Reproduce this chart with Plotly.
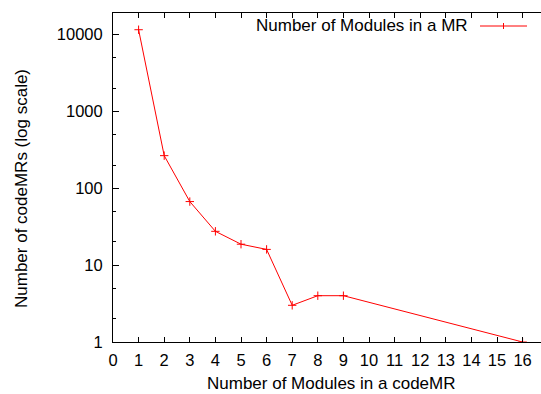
import plotly.graph_objects as go

# Data
modules = [1, 2, 3, 4, 5, 6, 7, 8, 9, 16]
code_mrs = [11500, 265, 67, 27.5, 18.7, 16, 3, 4, 4, 1]
x_ticks = list(range(0, 17))
y_ticks = [1, 10, 100, 1000, 10000]
series_name = "Number of Modules in a MR"
x_title = "Number of Modules in a codeMR"
y_title = "Number of codeMRs (log scale)"

W, H = 541, 394
L, R, T, B = 113, 0, 13, 52
pw, ph = W - L - R, H - T - B

def px(x):
    return (x - L) / pw

def py(y):
    return (H - B - y) / ph

FONT = "Liberation Sans, Arial, Helvetica, sans-serif"
RED = "#ff0000"

fig = go.Figure()
fig.add_trace(go.Scatter(
    x=modules, y=code_mrs, mode="lines+markers", name=series_name,
    line=dict(color=RED, width=1),
    marker=dict(symbol="cross-thin-open", size=6, color=RED,
                line=dict(color=RED, width=1)),
    showlegend=False,
))

fig.update_layout(
    width=W, height=H,
    margin=dict(l=L, r=R, t=T, b=B),
    paper_bgcolor="white", plot_bgcolor="white",
    font=dict(family=FONT, size=17, color="black"),
    xaxis=dict(
        range=[0, pw / 25.6], tickvals=x_ticks, ticktext=[str(v) for v in x_ticks],
        showgrid=False, zeroline=False, showline=True, linecolor="black", linewidth=1,
        mirror="ticks", ticks="inside", ticklen=5, tickcolor="black", tickwidth=1,
        tickfont=dict(size=16.5), ticklabelstandoff=3,
    ),
    yaxis=dict(
        type="log", range=[0, ph / 76.9],
        tickvals=y_ticks, ticktext=[str(v) for v in y_ticks],
        showgrid=False, zeroline=False, showline=True, linecolor="black", linewidth=1,
        ticks="inside", ticklen=6, tickcolor="black", tickwidth=1,
        minor=dict(ticks="inside", ticklen=3, tickcolor="black", dtick="D2", showgrid=False),
        tickfont=dict(size=16.5), ticklabelstandoff=6,
    ),
)

annotations = [
    dict(text=x_title, x=px(331), y=py(H), xref="paper", yref="paper",
         xanchor="center", yanchor="bottom", showarrow=False, font=dict(size=17),
         borderpad=0),
    dict(text=y_title, x=px(21.5), y=py(188.5), xref="paper", yref="paper",
         xanchor="center", yanchor="middle", showarrow=False, textangle=-90,
         font=dict(size=17)),
    dict(text=series_name, x=px(470), y=py(26), xref="paper", yref="paper",
         xanchor="right", yanchor="middle", showarrow=False, font=dict(size=17)),
]
fig.update_layout(annotations=annotations)

# legend sample
fig.add_shape(type="line", xref="paper", yref="paper",
              x0=px(480), x1=px(527), y0=py(26), y1=py(26),
              line=dict(color=RED, width=1))
fig.add_shape(type="line", xref="paper", yref="paper",
              x0=px(503.5), x1=px(503.5), y0=py(23), y1=py(29),
              line=dict(color=RED, width=1))

fig.write_html("out.html")
